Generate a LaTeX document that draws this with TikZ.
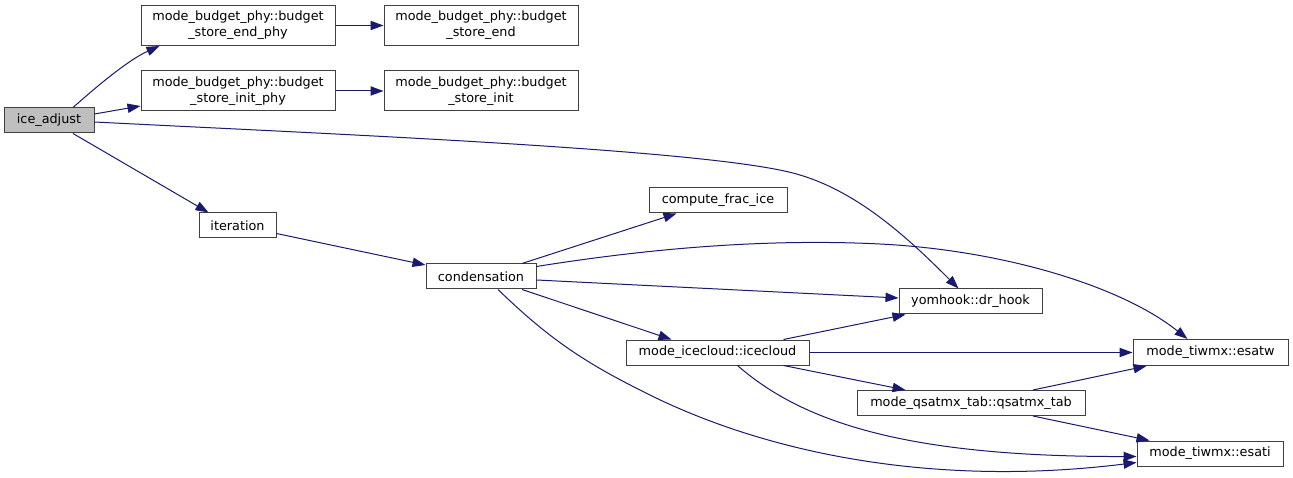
\documentclass[tikz,border=0pt]{standalone}
\usepackage{fontspec}
\setmainfont{DejaVu Sans}
\usetikzlibrary{arrows.meta,calc}
\definecolor{edgec}{HTML}{191970}
\definecolor{boxline}{HTML}{404040}
\definecolor{hilite}{HTML}{BFBFBF}
\begin{document}
\begin{tikzpicture}[x=1pt,y=-1pt,
  box/.style={draw=boxline, line width=1pt, fill=white, inner sep=0pt,
    minimum height=25pt, align=center, font=\fontsize{12.8}{16}\selectfont},
  tall/.style={minimum height=40pt},
  edge/.style={draw=edgec, line width=1pt, -{Triangle[length=13pt,width=9.3pt]}}]
\useasboundingbox (0,0) rectangle (1293,478);
\fill[white] (0,0) rectangle (1293,478);
% nodes
\node[box, fill=hilite, minimum width=90pt] (ia) at (49,120.5) {ice\_adjust};
\node[box, tall, minimum width=194pt] (endphy) at (238,25.5) {mode\_budget\_phy::budget\\\_store\_end\_phy};
\node[box, tall, minimum width=194pt] (endc) at (481,25.5) {mode\_budget\_phy::budget\\\_store\_end};
\node[box, tall, minimum width=194pt] (initphy) at (238,91) {mode\_budget\_phy::budget\\\_store\_init\_phy};
\node[box, tall, minimum width=194pt] (initc) at (481,91) {mode\_budget\_phy::budget\\\_store\_init};
\node[box, minimum width=77pt] (iter) at (237.5,225.5) {iteration};
\node[box, minimum width=110pt] (cond) at (481,276.5) {condensation};
\node[box, minimum width=138pt] (cfi) at (718,200.5) {compute\_frac\_ice};
\node[box, minimum width=143pt] (drhook) at (970.5,301.5) {yomhook::dr\_hook};
\node[box, minimum width=183pt] (icecloud) at (717.5,352.5) {mode\_icecloud::icecloud};
\node[box, minimum width=155pt, minimum height=26pt] (esatw) at (1210.5,352.5) {mode\_tiwmx::esatw};
\node[box, minimum width=228pt] (qsat) at (971,403) {mode\_qsatmx\_tab::qsatmx\_tab};
\node[box, minimum width=146pt] (esati) at (1210,453.5) {mode\_tiwmx::esati};
% edges
\draw[edge] ($(ia.north)+(24,0)$) .. controls (95,88) and (128,60) .. ($(endphy.south west)+(19,0)$);
\draw[edge] ($(ia.east)+(0,-6.5)$) -- ($(initphy.west)+(0,15)$);
\draw[edge] (endphy.east) -- (endc.west);
\draw[edge] (initphy.east) -- (initc.west);
\draw[edge] ($(ia.east)+(0,1.5)$) .. controls (350,135) and (720,150) .. (800,175)
  .. controls (860,193) and (910,240) .. ($(drhook.north)+(-12,0)$);
\draw[edge] ($(ia.south)+(24,0)$) -- ($(iter.north west)+(10,0)$);
\draw[edge] ($(iter.east)+(0,8)$) -- ($(cond.west)+(0,-11.5)$);
\draw[edge] ($(cond.north)+(41,0)$) -- ($(cfi.south west)+(28,0)$);
\draw[edge] ($(cond.east)+(0,-10)$) .. controls (640,250) and (760,238) .. (880,244)
  .. controls (1000,250) and (1120,285) .. ($(esatw.north west)+(55,0)$);
\draw[edge] ($(cond.east)+(0,3.5)$) -- ($(drhook.west)+(0,-3.5)$);
\draw[edge] ($(cond.south)+(41,0)$) -- ($(icecloud.north west)+(46,0)$);
\draw[edge] ($(cond.south)+(17,0)$) .. controls (545,335) and (580,360) .. (640,390)
  .. controls (760,452) and (930,488) .. ($(esati.west)+(0,9)$);
\draw[edge] ($(icecloud.north east)+(-26,0)$) -- ($(drhook.south west)+(7,0)$);
\draw[edge] (icecloud.east) -- (esatw.west);
\draw[edge] ($(icecloud.south east)+(-26,0)$) -- ($(qsat.north west)+(49,0)$);
\draw[edge] ($(icecloud.south)+(20,0)$) .. controls (800,420) and (900,457) .. ($(esati.west)+(0,3)$);
\draw[edge] ($(qsat.north)+(62,0)$) -- ($(esatw.south west)+(14,0)$);
\draw[edge] ($(qsat.south)+(62,0)$) -- ($(esati.north west)+(13,0)$);
\end{tikzpicture}
\end{document}
